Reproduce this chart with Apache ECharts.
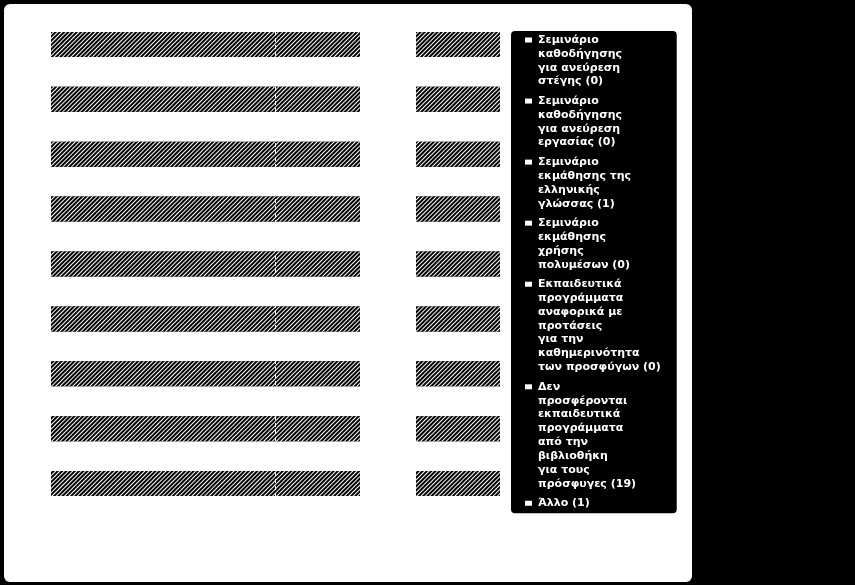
<!DOCTYPE html>
<html>
<head>
<meta charset="utf-8">
<script src="https://cdn.jsdelivr.net/npm/echarts@6/dist/echarts.min.js"></script>
<style>
  html, body { margin: 0; padding: 0; background: #000; }
  #panel { position: absolute; left: 4px; top: 4px; width: 688px; height: 578px; background: #fff; border-radius: 6px; }
  #chart { position: absolute; left: 0; top: 0; width: 855px; height: 585px; }
</style>
</head>
<body>
<div id="panel"></div>
<div id="chart"></div>
<script>
// γραμμές του διαγράμματος
var rowLabels = ['1', '2', '3', '4', '5', '6', '7', '8', '9'];
var leftValues = [68.8, 68.8, 68.8, 68.8, 68.8, 68.8, 68.8, 68.8, 68.8];
var gapValues = [12.5, 12.5, 12.5, 12.5, 12.5, 12.5, 12.5, 12.5, 12.5];
var rightValues = [18.7, 18.7, 18.7, 18.7, 18.7, 18.7, 18.7, 18.7, 18.7];
var markValue = 50;

// υπόμνημα
var legendNames = [
    'Σεμινάριο\nκαθοδήγησης\nγια ανεύρεση\nστέγης',
    'Σεμινάριο\nκαθοδήγησης\nγια ανεύρεση\nεργασίας',
    'Σεμινάριο\nεκμάθησης της\nελληνικής\nγλώσσας',
    'Σεμινάριο\nεκμάθησης\nχρήσης\nπολυμέσων',
    'Εκπαιδευτικά\nπρογράμματα\nαναφορικά με\nπροτάσεις\nγια την\nκαθημερινότητα\nτων προσφύγων',
    'Δεν\nπροσφέρονται\nεκπαιδευτικά\nπρογράμματα\nαπό την\nβιβλιοθήκη\nγια τους\nπρόσφυγες',
    'Άλλο'
];
var legendCounts = [0, 0, 1, 0, 0, 19, 1];

var pieData = [];
for (var i = 0; i < legendNames.length; i++) {
    pieData.push({name: legendNames[i], value: legendCounts[i]});
}

// διαγράμμιση των ράβδων
var hatch = {
    symbol: 'rect',
    symbolSize: 1,
    color: '#fff',
    backgroundColor: '#000',
    dashArrayX: [1, 0],
    dashArrayY: [1, 2],
    rotation: -Math.PI / 4
};

var myChart = echarts.init(document.getElementById('chart'));
var option = {
    backgroundColor: 'transparent',
    animation: false,
    grid: {left: 51, right: 355, top: 17, bottom: 74},
    xAxis: {type: 'value', min: 0, max: 100, show: false},
    yAxis: {type: 'category', data: rowLabels, inverse: true, show: false},
    legend: {
        orient: 'vertical',
        left: 511,
        top: 31,
        padding: [3, 16, 4, 9],
        backgroundColor: '#000',
        borderRadius: 4,
        icon: 'none',
        itemWidth: 0,
        itemHeight: 6,
        itemGap: 7.5,
        data: legendNames,
        formatter: function (name) {
            var idx = legendNames.indexOf(name);
            var lines = name.split('\n');
            lines[lines.length - 1] += ' (' + legendCounts[idx] + ')';
            var out = [];
            for (var k = 0; k < lines.length; k++) {
                if (k == 0) {
                    out.push('{sq|}{g|}{t|' + lines[k] + '}');
                } else {
                    out.push('{ind|}{t|' + lines[k] + '}');
                }
            }
            return out.join('\n');
        },
        textStyle: {
            color: '#fff',
            rich: {
                sq: {width: 7, height: 5, backgroundColor: '#fff', verticalAlign: 'middle'},
                g: {width: 6, height: 5},
                ind: {width: 13, height: 5},
                t: {color: '#fff', fontFamily: 'DejaVu Sans', fontSize: 11, fontWeight: 'bold', lineHeight: 13.85}
            }
        }
    },
    series: [
        {
            name: 'left',
            type: 'bar',
            stack: 'row',
            barWidth: 25,
            data: leftValues,
            itemStyle: {color: '#000', decal: hatch},
            markLine: {
                silent: true,
                symbol: ['none', 'none'],
                label: {show: false},
                lineStyle: {color: '#fff', type: [4, 3], width: 1},
                data: [{xAxis: markValue}]
            }
        },
        {
            name: 'gap',
            type: 'bar',
            stack: 'row',
            barWidth: 25,
            silent: true,
            data: gapValues,
            itemStyle: {color: 'transparent'}
        },
        {
            name: 'right',
            type: 'bar',
            stack: 'row',
            barWidth: 25,
            data: rightValues,
            itemStyle: {color: '#000', decal: hatch}
        },
        {
            type: 'pie',
            radius: [0, 0],
            center: [-100, -100],
            silent: true,
            label: {show: false},
            labelLine: {show: false},
            itemStyle: {opacity: 0},
            data: pieData
        }
    ]
};
myChart.setOption(option);
</script>
</body>
</html>
